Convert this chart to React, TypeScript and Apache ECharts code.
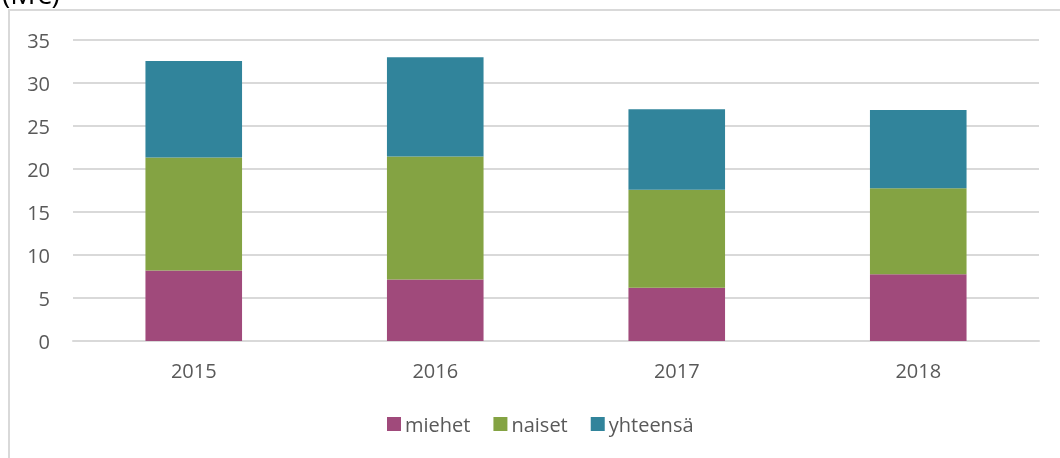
import React, { useEffect, useRef } from "react";
import * as echarts from "echarts";

const categories = ["2015", "2016", "2017", "2018"];
const miehet = [8.2, 7.15, 6.2, 7.75];
const naiset = [13.15, 14.3, 11.4, 10.0];
const yhteensa = [11.2, 11.55, 9.35, 9.1];
const seriesNames = ["miehet", "naiset", "yhteensä"];
const colors = ["#A04A7B", "#84A343", "#31849B"];
const unitLabel = "(M€)";

export default function App() {
  const ref = useRef<HTMLDivElement>(null);
  useEffect(() => {
    if (!ref.current) return;
    const chart = echarts.init(ref.current, null, { renderer: "svg" });
    const font = "'Open Sans', sans-serif";
    const data = [miehet, naiset, yhteensa];
    chart.setOption({
      animation: false,
      color: colors,
      graphic: [
        {
          type: "rect",
          shape: { x: 9, y: 10, width: 1200, height: 600 },
          style: { fill: "none", stroke: "#d9d9d9", lineWidth: 2 },
          silent: true,
        },
        {
          type: "text",
          left: 2,
          top: -21,
          style: { text: unitLabel, fontSize: 28, fill: "#000", fontFamily: font },
        },
      ],
      grid: { left: 73, right: 21, top: 40, bottom: 117, containLabel: false },
      legend: {
        data: seriesNames,
        top: 409,
        left: 382,
        itemWidth: 14,
        itemHeight: 14,
        itemGap: 23,
        icon: "rect",
        textStyle: { fontSize: 20, color: "#595959", fontFamily: font, padding: [0, 0, 0, -1] },
      },
      xAxis: {
        type: "category",
        data: categories,
        axisLine: { lineStyle: { color: "#d9d9d9", width: 2 } },
        axisTick: { show: false },
        axisLabel: { fontSize: 20, color: "#595959", fontFamily: font, margin: 19 },
      },
      yAxis: {
        type: "value",
        min: 0,
        max: 35,
        interval: 5,
        axisLine: { show: false },
        axisTick: { show: false },
        splitLine: { lineStyle: { color: "#d9d9d9", width: 2 } },
        axisLabel: { fontSize: 20, color: "#595959", fontFamily: font, margin: 23 },
      },
      series: seriesNames.map((name, i) => ({
        name,
        type: "bar",
        stack: "total",
        barWidth: "40%",
        data: data[i],
        itemStyle: { color: colors[i] },
      })),
    });
    return () => chart.dispose();
  }, []);
  return (
    <div
      ref={ref}
      style={{ position: "fixed", left: 0, top: 0, width: 1060, height: 458 }}
    />
  );
}
